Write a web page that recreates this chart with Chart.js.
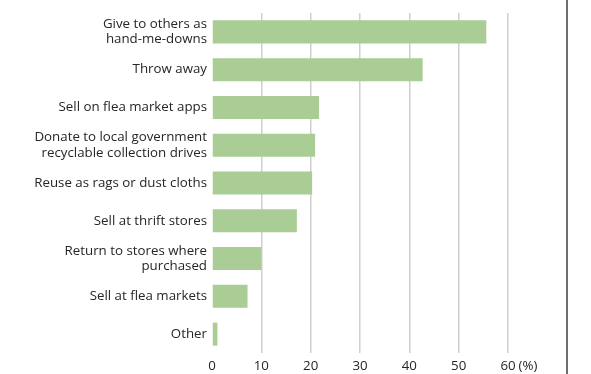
<!DOCTYPE html>
<html lang="en">
<head>
    <meta charset="UTF-8">
    <title>Disposal of unwanted clothes</title>
    <script src="https://cdn.jsdelivr.net/npm/chart.js"></script>
    <style>
        html, body {
            margin: 0;
            padding: 0;
            background: #fff;
        }
        #wrap {
            position: relative;
            width: 591px;
            height: 374px;
        }
    </style>
</head>
<body>
    <div id="wrap"><canvas id="myChart"></canvas></div>

    <script>
        const categories = [
            ['Give to others as', 'hand-me-downs'],
            'Throw away',
            'Sell on flea market apps',
            ['Donate to local government', 'recyclable collection drives'],
            'Reuse as rags or dust cloths',
            'Sell at thrift stores',
            ['Return to stores where', 'purchased'],
            'Sell at flea markets',
            'Other'
        ];
        const values = [55.6, 42.7, 21.7, 20.9, 20.3, 17.2, 10.0, 7.2, 1.1];
        const xTicks = [0, 10, 20, 30, 40, 50, 60];
        const unitLabel = '(%)';

        const textColor = '#262626';
        const fontFamily = '"Open Sans", "Noto Sans", sans-serif';

        // draws the unit after the last tick and the right frame line
        const extras = {
            id: 'extras',
            afterDraw(chart) {
                const c = chart.ctx;
                const xs = chart.scales.x;
                const last = xTicks[xTicks.length - 1];
                c.save();
                c.font = '13.3px ' + fontFamily;
                c.fillStyle = textColor;
                c.textBaseline = 'middle';
                c.textAlign = 'left';
                const px = xs.getPixelForValue(last);
                const w = c.measureText(String(last)).width;
                c.fillText(unitLabel, px + w / 2 + 3, 366);

                c.strokeStyle = '#6e6e6e';
                c.lineWidth = 2;
                c.beginPath();
                c.moveTo(567, 0);
                c.lineTo(567, chart.height);
                c.stroke();
                c.restore();
            }
        };

        const ctx = document.getElementById('myChart').getContext('2d');
        const myChart = new Chart(ctx, {
            type: 'bar',
            data: {
                labels: categories,
                datasets: [{
                    data: values,
                    backgroundColor: '#a9cd94',
                    borderWidth: 0,
                    categoryPercentage: 1,
                    barPercentage: 0.61
                }]
            },
            options: {
                indexAxis: 'y',
                responsive: true,
                maintainAspectRatio: false,
                animation: false,
                layout: {
                    padding: { left: 0, right: 83, top: 13, bottom: 0 }
                },
                plugins: {
                    legend: { display: false },
                    tooltip: { enabled: false }
                },
                scales: {
                    x: {
                        min: 0,
                        max: 60,
                        afterBuildTicks: axis => {
                            axis.ticks = xTicks.map(v => ({ value: v }));
                        },
                        afterFit: axis => { axis.height = 21; },
                        border: { display: false },
                        grid: {
                            color: c => c.tick && c.tick.value === 0 ? 'rgba(0,0,0,0)' : '#cfcfcf',
                            lineWidth: 1.5,
                            drawTicks: false
                        },
                        ticks: {
                            color: textColor,
                            font: { family: fontFamily, size: 13.3 },
                            padding: 5,
                            maxRotation: 0
                        }
                    },
                    y: {
                        afterFit: axis => { axis.width = 212; },
                        border: { display: false },
                        grid: { display: false, drawTicks: false },
                        ticks: {
                            color: textColor,
                            font: { family: fontFamily, size: 13.3, lineHeight: 1.15 },
                            padding: 5
                        }
                    }
                }
            },
            plugins: [extras]
        });
    </script>
</body>
</html>
